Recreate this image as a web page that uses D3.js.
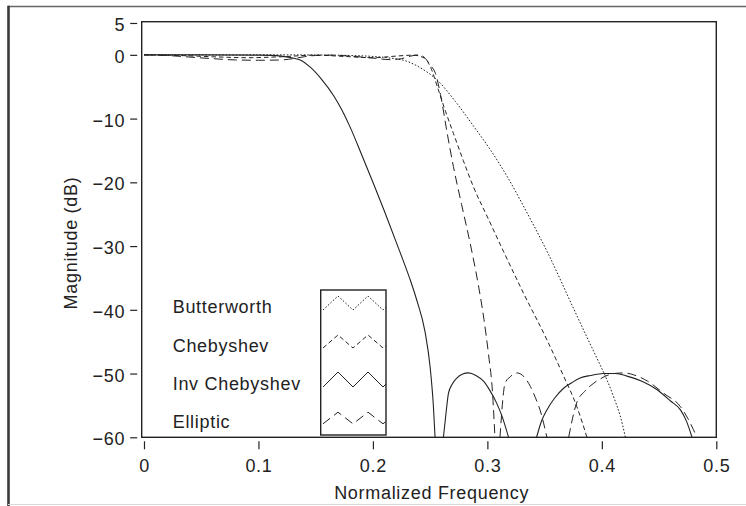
<!DOCTYPE html>
<html>
<head>
<meta charset="utf-8">
<script src="https://cdn.jsdelivr.net/npm/d3@7"></script>
<style>
  html, body { margin: 0; padding: 0; background: #fff; }
  text { font-family: "Liberation Sans", Arial, Helvetica, sans-serif; fill: #222; }
</style>
</head>
<body>
<div id="chart"></div>
<script>
// ---------- data ----------
const seriesNames = ["Butterworth", "Chebyshev", "Inv Chebyshev", "Elliptic"];
const xTicks = [0, 0.1, 0.2, 0.3, 0.4, 0.5];
const xTickLabels = ["0", "0.1", "0.2", "0.3", "0.4", "0.5"];
const yTicks = [5, 0, -10, -20, -30, -40, -50, -60];
const yTickLabels = ["5", "0", "\u221210", "\u221220", "\u221230", "\u221240", "\u221250", "\u221260"];

// [normalized frequency, magnitude dB]; null separates segments
const butterworth = [
  [0,0],[0.1,0],[0.15,-0.02],[0.18,-0.1],[0.2,-0.25],[0.215,-0.5],[0.2295,-1.0],
  [0.243,-2.2],[0.2558,-3.9],[0.272,-7.3],[0.288,-11.2],[0.303,-15],[0.317,-19],
  [0.335,-24.9],[0.3534,-31.3],[0.3753,-39.8],[0.387,-44.3],[0.396,-47.7],
  [0.4045,-51],[0.411,-54],[0.416,-56.6],[0.4206,-60]
];
const chebyshev = [
  [0,0],[0.03,-0.1],[0.06,-0.3],[0.09,-0.45],[0.12,-0.3],[0.15,-0.05],[0.175,-0.25],
  [0.2,-0.45],[0.22,-0.2],[0.235,-0.05],[0.245,-0.5],[0.25,-1.8],[0.2572,-5.5],
  [0.2635,-8.9],[0.2703,-12.3],[0.279,-16.6],[0.2878,-20.7],[0.301,-25.8],[0.314,-30.8],
  [0.3316,-37.4],[0.352,-44.7],[0.3666,-50.4],[0.378,-55.1],[0.387,-60]
];
const invChebyshev = [
  [0,0],[0.05,0],[0.1,-0.05],[0.12,-0.2],[0.13,-0.5],[0.1365,-0.8],[0.145,-1.9],
  [0.155,-3.8],[0.166,-6.5],[0.173,-8.7],[0.18,-11.3],[0.19,-15.6],[0.2,-20],
  [0.21,-24.5],[0.224,-31.1],[0.232,-35],[0.238,-38.3],[0.2456,-43.5],[0.25,-49],
  [0.2528,-55],[0.2543,-60],
  null,
  [0.2616,-60],[0.264,-56],[0.266,-53.1],[0.2695,-51.6],[0.2733,-50.7],[0.278,-50.1],
  [0.2835,-49.9],[0.29,-50.3],[0.2966,-51.2],[0.302,-52.6],[0.308,-54.6],[0.313,-56.8],
  [0.3185,-60],
  null,
  [0.343,-60],[0.347,-57.6],[0.352,-55.7],[0.359,-53.8],[0.3666,-52.3],[0.374,-51.4],
  [0.381,-50.7],[0.39,-50.3],[0.4016,-50.0],[0.412,-50.0],[0.422,-50.4],[0.435,-51.2],
  [0.448,-52.5],[0.46,-54.3],[0.4687,-55.7],[0.474,-57.5],[0.4788,-60]
];
const elliptic = [
  [0,0],[0.02,-0.1],[0.04,-0.35],[0.06,-0.6],[0.08,-0.8],[0.1,-0.85],[0.12,-0.8],
  [0.13,-0.6],[0.14,-0.3],[0.15,-0.1],[0.165,-0.05],[0.18,-0.2],[0.2,-0.5],[0.215,-0.75],
  [0.225,-0.6],[0.233,-0.2],[0.24,0],[0.245,-0.4],[0.25,-1.6],[0.2546,-2.9],[0.259,-6.2],
  [0.2648,-12.2],[0.2703,-17.5],[0.2775,-23.5],[0.285,-29.6],[0.292,-36],[0.297,-41.5],
  [0.301,-47],[0.3045,-53],[0.3066,-60],
  null,
  [0.311,-60],[0.3155,-51.5],[0.32,-50.5],[0.3258,-49.9],[0.332,-50.5],[0.3375,-52],
  [0.342,-53.8],[0.346,-55.7],[0.352,-60],
  null,
  [0.371,-60],[0.378,-54.6],[0.385,-52.8],[0.393,-51.5],[0.401,-50.6],[0.4103,-50.0],
  [0.42,-49.9],[0.4278,-50.2],[0.44,-51.2],[0.454,-53.1],[0.4687,-55.2],[0.475,-57],
  [0.48,-58.8],[0.483,-60]
];
const seriesData = [butterworth, chebyshev, invChebyshev, elliptic];
const seriesDash = ["1.6,1.8", "4.5,3", null, "9,5"];

// ---------- layout ----------
const W = 746, H = 506;
const plot = { left: 141.7, right: 716.3, top: 21.7, bottom: 437.3 };

const svg = d3.select("#chart").append("svg")
  .attr("width", W).attr("height", H)
  .style("display", "block");

svg.append("rect").attr("width", W).attr("height", H).attr("fill", "#fff");

// outer page frame
svg.append("line").attr("x1", 8).attr("x2", W).attr("y1", 6.5).attr("y2", 6.5)
  .attr("stroke", "#666").attr("stroke-width", 1.6);
svg.append("line").attr("x1", 8.5).attr("x2", 8.5).attr("y1", 5.7).attr("y2", H)
  .attr("stroke", "#3a3a3a").attr("stroke-width", 2.6);
svg.append("line").attr("x1", 8).attr("x2", W).attr("y1", 504.5).attr("y2", 504.5)
  .attr("stroke", "#d8d8d8").attr("stroke-width", 1.2);

const x = d3.scaleLinear().domain([-0.002, 0.5]).range([plot.left, plot.right]);
const y = d3.scaleLinear().domain([-60, 5.2]).range([plot.bottom, plot.top]);

// clip
svg.append("clipPath").attr("id", "plotclip").append("rect")
  .attr("x", plot.left).attr("y", plot.top)
  .attr("width", plot.right - plot.left).attr("height", plot.bottom - plot.top);

// axes (ticks detached from frame)
const fontSize = 18, ls = 0.7;
const xAxis = d3.axisBottom(x).tickValues(xTicks).tickSize(8).tickPadding(10)
  .tickFormat((d, i) => xTickLabels[i]);
const gx = svg.append("g").attr("transform", `translate(0,${plot.bottom + 4})`).call(xAxis);
gx.select(".domain").remove();
gx.selectAll(".tick line").attr("stroke", "#222").attr("stroke-width", 1.2);
gx.selectAll(".tick text").attr("font-size", fontSize).attr("letter-spacing", ls)
  .attr("fill", "#222").style("font-family", '"Liberation Sans", Arial, sans-serif');

const yAxis = d3.axisLeft(y).tickValues(yTicks).tickSize(7).tickPadding(5)
  .tickFormat((d, i) => yTickLabels[i]);
const gy = svg.append("g").attr("transform", `translate(${plot.left - 4.5},0)`).call(yAxis);
gy.select(".domain").remove();
gy.selectAll(".tick line").attr("stroke", "#222").attr("stroke-width", 1.2);
gy.selectAll(".tick text").attr("font-size", fontSize).attr("letter-spacing", ls)
  .attr("fill", "#222").attr("dy", "0.42em")
  .style("font-family", '"Liberation Sans", Arial, sans-serif');

// axis titles
svg.append("text").attr("x", 431.7).attr("y", 499.3).attr("text-anchor", "middle")
  .attr("font-size", fontSize).attr("letter-spacing", ls).text("Normalized Frequency");
svg.append("text").attr("transform", "translate(76.5,243) rotate(-90)")
  .attr("text-anchor", "middle").attr("font-size", fontSize).attr("letter-spacing", ls)
  .text("Magnitude (dB)");

// curves
const line = d3.line()
  .defined(d => d !== null)
  .x(d => x(d[0])).y(d => y(d[1]))
  .curve(d3.curveMonotoneX);

const curves = svg.append("g").attr("clip-path", "url(#plotclip)");
seriesData.forEach((data, i) => {
  curves.append("path")
    .attr("d", line(data))
    .attr("fill", "none")
    .attr("stroke", "#222")
    .attr("stroke-width", i === 2 ? 1.1 : 1.0)
    .attr("stroke-dasharray", seriesDash[i]);
});

// plot frame
svg.append("rect")
  .attr("x", plot.left).attr("y", plot.top)
  .attr("width", plot.right - plot.left).attr("height", plot.bottom - plot.top)
  .attr("fill", "none").attr("stroke", "#222").attr("stroke-width", 1.4);

// legend
const legBox = { x: 320.7, y: 290, w: 65.3, h: 145 };
const legTextX = 172.7;
const legBaselines = [313, 351.5, 389.5, 428];
const leg = svg.append("g");
leg.append("clipPath").attr("id", "legclip").append("rect")
  .attr("x", legBox.x).attr("y", legBox.y).attr("width", legBox.w).attr("height", legBox.h);
leg.append("rect").attr("x", legBox.x).attr("y", legBox.y)
  .attr("width", legBox.w).attr("height", legBox.h)
  .attr("fill", "#fff").attr("stroke", "#222").attr("stroke-width", 1.4);

const sampleAmp = [7, 6.5, 7.5, 5.8];
seriesNames.forEach((name, i) => {
  leg.append("text").attr("x", legTextX).attr("y", legBaselines[i])
    .attr("font-size", fontSize).attr("letter-spacing", ls).text(name);
  const cy = legBaselines[i] - 10;
  const a = sampleAmp[i];
  const pts = [];
  for (let k = 0; k <= 5; k++) {
    const px = 323 + k * 15;
    pts.push([px, k % 2 === 0 ? cy + a : cy - a]);
  }
  leg.append("path")
    .attr("clip-path", "url(#legclip)")
    .attr("d", d3.line()(pts))
    .attr("fill", "none").attr("stroke", "#222").attr("stroke-width", 1)
    .attr("stroke-dasharray", seriesDash[i]);
});
</script>
</body>
</html>
